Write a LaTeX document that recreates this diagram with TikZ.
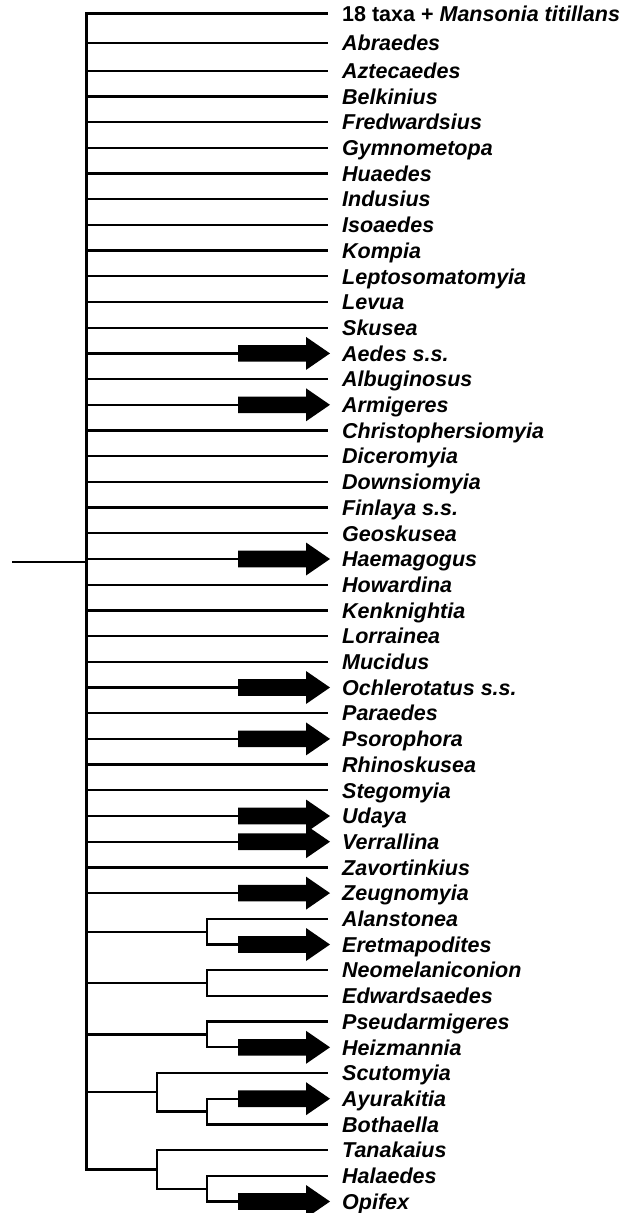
\documentclass[tikz,border=0pt]{standalone}
\usepackage{fontspec}
\setmainfont{Liberation Sans}
\usetikzlibrary{calc}
\begin{document}
\begin{tikzpicture}[x=1pt,y=-1pt,
  branch/.style={line width=2.3pt,line cap=rect},
  mainbranch/.style={line width=3pt,line cap=rect},
  taxon/.style={anchor=west,inner sep=0pt,text height=15.4pt,text depth=0pt,
    font=\fontsize{21.5}{24}\selectfont\bfseries\itshape},
  hostarrow/.style={fill=black}]
\useasboundingbox (0,0) rectangle (621,1213);
% pass 1: leaf positions and labels
\foreach \lab/\arr/\px [count=\i] in {
 {\upshape 18 taxa + \itshape Mansonia titillans}/0/M,
 Abraedes/0/M, Aztecaedes/0/M, Belkinius/0/M, Fredwardsius/0/M,
 Gymnometopa/0/M, Huaedes/0/M, Indusius/0/M, Isoaedes/0/M, Kompia/0/M,
 Leptosomatomyia/0/M, Levua/0/M, Skusea/0/M, Aedes s.s./1/M,
 Albuginosus/0/M, Armigeres/1/M, Christophersiomyia/0/M, Diceromyia/0/M,
 Downsiomyia/0/M, Finlaya s.s./0/M, Geoskusea/0/M, Haemagogus/1/M,
 Howardina/0/M, Kenknightia/0/M, Lorrainea/0/M, Mucidus/0/M,
 Ochlerotatus s.s./1/M, Paraedes/0/M, Psorophora/1/M, Rhinoskusea/0/M,
 Stegomyia/0/M, Udaya/1/M, Verrallina/1/M, Zavortinkius/0/M,
 Zeugnomyia/1/M, Alanstonea/0/A, Eretmapodites/1/A, Neomelaniconion/0/B,
 Edwardsaedes/0/B, Pseudarmigeres/0/C, Heizmannia/1/C, Scutomyia/0/E,
 Ayurakitia/1/D, Bothaella/0/D, Tanakaius/0/G, Halaedes/0/F, Opifex/1/F}{
  \pgfmathsetmacro\yy{\i==1 ? 13.5 : (\i==2 ? 42.7 : 70.7+(\i-3)*25.7)}
  \coordinate (e\i) at (327,\yy);
  \coordinate (a\i) at (238,\yy);
  \node[taxon] (t\i) at (342,\yy) {\lab};
}
% internal nodes
\coordinate (M) at (86,0);
\coordinate (xin) at (207,0);
\coordinate (xout) at (157,0);
\coordinate (mA) at ($(e36)!.5!(e37)$); \coordinate (A) at (xin |- mA);
\coordinate (mB) at ($(e38)!.5!(e39)$); \coordinate (B) at (xin |- mB);
\coordinate (mC) at ($(e40)!.5!(e41)$); \coordinate (C) at (xin |- mC);
\coordinate (mD) at ($(e43)!.5!(e44)$); \coordinate (D) at (xin |- mD);
\coordinate (mF) at ($(e46)!.5!(e47)$); \coordinate (F) at (xin |- mF);
\coordinate (mE) at ($(e42)!.5!(D)$);   \coordinate (E) at (xout |- mE);
\coordinate (mG) at ($(e45)!.5!(F)$);   \coordinate (G) at (xout |- mG);
\coordinate (R) at (13,562);
% pass 2: leaf branches and arrows
\foreach \arr/\px [count=\i] in {
 0/M,0/M,0/M,0/M,0/M,0/M,0/M,0/M,0/M,0/M,0/M,0/M,0/M,1/M,0/M,1/M,0/M,0/M,
 0/M,0/M,0/M,1/M,0/M,0/M,0/M,0/M,1/M,0/M,1/M,0/M,0/M,1/M,1/M,0/M,1/M,
 0/A,1/A,0/B,0/B,0/C,1/C,0/E,1/D,0/D,0/G,0/F,1/F}{
  \ifnum\arr=1
    \draw[branch] (\px |- e\i) -- (a\i);
    \fill[hostarrow] (a\i) ++(0,-8.3) -- ++(68,0) -- ++(0,-8.2) -- ++(24,16.5)
      -- ++(-24,16.5) -- ++(0,-8.2) -- ++(-68,0) -- cycle;
  \else
    \draw[branch] (\px |- e\i) -- (e\i);
  \fi
}
% internal verticals and connections
\draw[mainbranch] (M |- e1) -- (M |- G);
\draw[branch] (R) -- (M |- R);
\draw[branch] (A |- e36) -- (A |- e37);
\draw[branch] (B |- e38) -- (B |- e39);
\draw[branch] (C |- e40) -- (C |- e41);
\draw[branch] (D |- e43) -- (D |- e44);
\draw[branch] (F |- e46) -- (F |- e47);
\draw[branch] (E |- e42) -- (E |- D);
\draw[branch] (G |- e45) -- (G |- F);
\draw[branch] (M |- A) -- (A);
\draw[branch] (M |- B) -- (B);
\draw[branch] (M |- C) -- (C);
\draw[branch] (M |- E) -- (E);
\draw[branch] (E |- D) -- (D);
\draw[branch] (M |- G) -- (G);
\draw[branch] (G |- F) -- (F);
\end{tikzpicture}
\end{document}
